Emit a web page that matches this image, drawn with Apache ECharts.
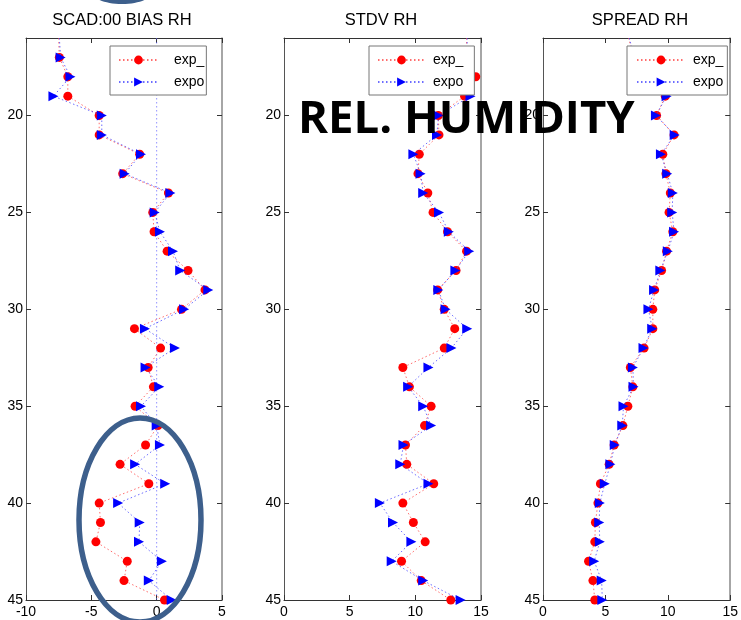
<!DOCTYPE html>
<html>
<head>
<meta charset="utf-8">
<script src="https://cdn.jsdelivr.net/npm/echarts@6/dist/echarts.min.js"></script>
<style>
html,body{margin:0;padding:0;background:#fff;}
#main{width:741px;height:620px;}
</style>
</head>
<body>
<div id="main"></div>
<script>
// ---- data ----
const levels = [16,17,18,19,20,21,22,23,24,25,26,27,28,29,30,31,32,33,34,35,36,37,38,39,40,41,42,43,44,45];

const biasExp  = [-7.5,-7.45,-6.8,-6.8,-4.4,-4.4,-1.3,-2.6,0.9,-0.3,-0.2,0.8,2.4,3.7,1.9,-1.7,0.3,-0.65,-0.25,-1.65,0.1,-0.85,-2.8,-0.6,-4.4,-4.3,-4.65,-2.25,-2.5,0.6];
const biasExpo = [-7.45,-7.35,-6.6,-7.9,-4.2,-4.2,-1.2,-2.45,1.05,-0.15,0.25,1.25,1.8,3.95,2.1,-0.9,1.4,-0.85,0.2,-1.2,0.0,0.25,-1.65,0.65,-2.95,-1.3,-1.35,0.4,-0.6,1.15];

const stdvExp  = [13.9,13.9,14.6,13.75,11.75,11.8,10.3,10.2,10.95,11.35,12.45,13.9,13.1,11.7,12.2,13.0,12.2,9.05,9.55,11.2,10.7,9.25,9.35,11.4,9.05,9.85,10.75,8.95,10.45,12.7];
const stdvExpo = [13.95,13.95,14.1,14.2,11.75,11.65,9.85,10.4,10.6,11.8,12.55,14.1,13.05,11.75,12.3,13.95,12.75,11.0,9.45,10.6,11.2,9.1,8.85,11.0,7.3,8.3,9.7,8.2,10.6,13.45];

const spreadExp  = [6.85,7.3,8.5,9.8,9.1,10.5,9.6,9.85,10.2,10.1,10.4,9.9,9.5,8.95,8.8,8.8,8.1,7.0,7.2,6.8,6.4,5.7,5.3,4.6,4.4,4.2,4.15,3.65,4.0,4.15];
const spreadExpo = [6.9,7.35,8.6,9.9,9.05,10.55,9.45,9.95,10.4,10.35,10.5,10.0,9.4,8.9,8.45,8.75,8.05,7.2,7.25,6.45,6.35,5.75,5.4,4.95,4.55,4.5,4.55,4.1,4.7,4.75];

const zeroLineX = [0, 0];
const zeroLineY = [16, 45];

const titles = ['SCAD:00 BIAS RH', 'STDV RH', 'SPREAD RH'];
const seriesNames = ['exp_', 'expo'];
const xRanges = [[-10, 5], [0, 15], [0, 15]];
const yTicks = [20, 25, 30, 35, 40, 45];
const overlayText = 'REL. HUMIDITY';

// ---- layout ----
const grids = [
  {left: 26, top: 38, width: 196, height: 562},
  {left: 284, top: 38, width: 197, height: 562},
  {left: 543, top: 38, width: 196, height: 562}
];
const legendLayouts = [
  {left: 110, padding: [7, 2, 6, 8], itemWidth: 39, textPad: 11},
  {left: 369, padding: [7, 11, 6, 8], itemWidth: 47, textPad: 3},
  {left: 627, padding: [7, 4, 6, 9], itemWidth: 48, textPad: 3}
];
const titleCenters = [122, 381, 640];
const panelData = [[biasExp, biasExpo], [stdvExp, stdvExpo], [spreadExp, spreadExpo]];

const FONT = 'Liberation Sans, Arial, sans-serif';
const frameColor = '#555';

function mkData(vals) {
  return vals.map((v, i) => levels[i] === 16 ? {value: [v, levels[i]], symbol: 'none'} : [v, levels[i]]);
}

const xAxes = [], yAxes = [], series = [], legends = [], graphics = [];
for (let p = 0; p < 3; p++) {
  xAxes.push({
    gridIndex: p, type: 'value', position: 'bottom',
    min: xRanges[p][0], max: xRanges[p][1], interval: 5,
    axisLine: {show: true, onZero: false, lineStyle: {color: '#333', width: 1}},
    axisTick: {show: true, inside: true, length: 5, lineStyle: {color: '#333'}},
    axisLabel: {show: true, color: '#000', fontFamily: FONT, fontSize: 14, margin: 5, showMinLabel: true, showMaxLabel: true},
    splitLine: {show: false}
  });
  yAxes.push({
    gridIndex: p, type: 'value', position: 'left', inverse: true,
    min: 16, max: 45,
    axisLine: {show: true, onZero: false, lineStyle: {color: frameColor, width: 1}},
    axisTick: {show: true, inside: true, length: 5, lineStyle: {color: '#333'}, customValues: yTicks},
    axisLabel: {show: true, color: '#000', fontFamily: FONT, fontSize: 14, margin: 3, customValues: yTicks},
    splitLine: {show: false}
  });
}
for (let p = 0; p < 3; p++) {
  xAxes.push({
    gridIndex: p, type: 'value', position: 'top',
    min: xRanges[p][0], max: xRanges[p][1], interval: 5,
    axisLine: {show: true, onZero: false, lineStyle: {color: '#333', width: 1}},
    axisTick: {show: true, inside: true, length: 5, lineStyle: {color: '#333'}},
    axisLabel: {show: false},
    splitLine: {show: false}
  });
  yAxes.push({
    gridIndex: p, type: 'value', position: 'right', inverse: true,
    min: 16, max: 45,
    axisLine: {show: true, onZero: false, lineStyle: {color: '#888', width: 1.5}},
    axisTick: {show: true, inside: true, length: 5, lineStyle: {color: '#333'}, customValues: yTicks},
    axisLabel: {show: false, customValues: yTicks},
    splitLine: {show: false}
  });
}

// zero reference line in panel 1
series.push({
  type: 'line', name: 'zero', xAxisIndex: 0, yAxisIndex: 0,
  data: zeroLineX.map((v, i) => [v, zeroLineY[i]]),
  symbol: 'none', silent: true, clip: true,
  lineStyle: {color: 'rgba(100,100,255,0.7)', width: 1, type: [1.5, 2.5]},
  z: 1
});

for (let p = 0; p < 3; p++) {
  series.push({
    type: 'line', name: seriesNames[0], xAxisIndex: p, yAxisIndex: p,
    data: mkData(panelData[p][0]),
    symbol: 'circle', symbolSize: 9, clip: true,
    itemStyle: {color: '#ff0000'},
    lineStyle: {color: 'rgba(255,60,60,0.75)', width: 1, type: [1.5, 2.5]},
    z: 2
  });
  series.push({
    type: 'line', name: seriesNames[1], xAxisIndex: p, yAxisIndex: p,
    data: mkData(panelData[p][1]),
    symbol: 'triangle', symbolSize: [10, 10], symbolRotate: -90, clip: true,
    itemStyle: {color: '#0000ff'},
    lineStyle: {color: 'rgba(60,60,255,0.75)', width: 1, type: [1.5, 2.5]},
    z: 3
  });
  const L = legendLayouts[p];
  legends.push({
    data: seriesNames,
    orient: 'vertical',
    left: L.left, top: 46,
    padding: L.padding,
    itemGap: 8,
    itemWidth: L.itemWidth, itemHeight: 11,
    backgroundColor: '#fff',
    borderColor: '#777', borderWidth: 1,
    selectedMode: false,
    textStyle: {color: '#000', fontFamily: FONT, fontSize: 14, padding: [0, 0, 0, L.textPad]},
    z: 10
  });
  graphics.push({
    type: 'text', x: titleCenters[p], y: 20, z: 20,
    style: {text: titles[p], fill: '#000', font: '16.5px "Liberation Sans", Arial, sans-serif',
            align: 'center', verticalAlign: 'middle'}
  });
}

graphics.push(
  {type: 'ellipse', shape: {cx: 140, cy: 520, rx: 61, ry: 102},
   style: {fill: 'none', stroke: '#3d5f8c', lineWidth: 5.5}, z: 50},
  {type: 'ellipse', shape: {cx: 122, cy: -8, rx: 30, ry: 12},
   style: {fill: '#3d5f8c'}, z: 50},
  {type: 'text', left: 298, top: 97, z: 60,
   style: {text: overlayText, fill: '#000', font: 'bold 45.5px "Open Sans", "Noto Sans", sans-serif'}}
);

const chart = echarts.init(document.getElementById('main'), null, {renderer: 'canvas'});
chart.setOption({
  backgroundColor: '#fff',
  animation: false,
  grid: grids,
  xAxis: xAxes,
  yAxis: yAxes,
  legend: legends,
  series: series,
  graphic: graphics
});
</script>
</body>
</html>
